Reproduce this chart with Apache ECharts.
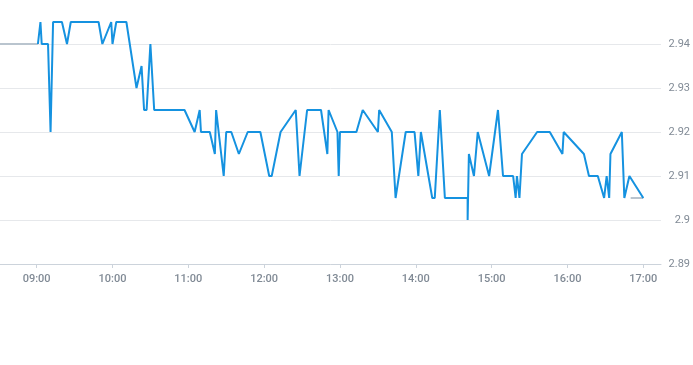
<!DOCTYPE html>
<html>
<head>
<meta charset="utf-8">
<script src="https://cdn.jsdelivr.net/npm/echarts@6/dist/echarts.min.js"></script>
<style>
html,body{margin:0;padding:0;background:#fff;}
#c{width:693px;height:365px;}
</style>
</head>
<body>
<div id="c"></div>
<script>
// axis range (minutes, category axis) and tick labels
var axisStart = '08:31';
var axisEnd = '17:14';
var tickLabels = ['09:00','10:00','11:00','12:00','13:00','14:00','15:00','16:00','17:00'];
var yTicks = [2.89, 2.9, 2.91, 2.92, 2.93, 2.94];

// price series (blue)
var priceTimes = ['09:01','09:03','09:04','09:09','09:11','09:13','09:20','09:24','09:27','09:49',
  '09:52','09:53','09:59','10:00','10:03','10:11','10:19','10:23','10:25','10:27',
  '10:30','10:33','10:57','11:05','11:09','11:10','11:17','11:21','11:22','11:28',
  '11:30','11:34','11:40','11:47','11:57','12:04','12:06','12:13','12:25','12:28',
  '12:34','12:45','12:50','12:51','12:58','12:59','13:00','13:13','13:18','13:30',
  '13:31','13:41','13:44','13:52','13:59','14:02','14:04','14:13','14:15','14:19',
  '14:23','14:41','14:41','14:42','14:46','14:49','14:58','15:05','15:09','15:17',
  '15:19','15:20','15:22','15:24','15:36','15:46','15:56','15:57','16:13','16:17',
  '16:24','16:29','16:31','16:33','16:34','16:43','16:45','16:49','17:00'];
var priceValues = [2.94,2.945,2.94,2.94,2.92,2.945,2.945,2.94,2.945,2.945,
  2.94,2.94,2.945,2.94,2.945,2.945,2.93,2.935,2.925,2.925,
  2.94,2.925,2.925,2.92,2.925,2.92,2.92,2.915,2.925,2.91,
  2.92,2.92,2.915,2.92,2.92,2.91,2.91,2.92,2.925,2.91,
  2.925,2.925,2.915,2.925,2.92,2.91,2.92,2.92,2.925,2.92,
  2.925,2.92,2.905,2.92,2.92,2.91,2.92,2.905,2.905,2.925,
  2.905,2.905,2.90,2.915,2.91,2.92,2.91,2.925,2.91,2.91,
  2.905,2.91,2.905,2.915,2.92,2.92,2.915,2.92,2.915,2.91,
  2.91,2.905,2.91,2.905,2.915,2.92,2.905,2.91,2.905];

// reference (grey) segments
var refTimes = ['08:31','09:01', null, '16:50','17:00'];
var refValues = [2.94, 2.94, null, 2.905, 2.905];

function toMin(s){var p=s.split(':');return (+p[0])*60+(+p[1]);}
function toStr(m){var h=Math.floor(m/60),mm=m%60;return (h<10?'0':'')+h+':'+(mm<10?'0':'')+mm;}
var categories = [];
for (var m = toMin(axisStart); m <= toMin(axisEnd); m++) categories.push(toStr(m));

var priceData = priceTimes.map(function(t,i){return [t, priceValues[i]];});
var refData = refTimes.map(function(t,i){return t===null ? ['-', null] : [t, refValues[i]];});

var showTick = function(idx, val){ return tickLabels.indexOf(val) >= 0; };

var chart = echarts.init(document.getElementById('c'), null, {renderer:'canvas'});
chart.setOption({
  animation:false,
  grid:{left:0, right:30, top:0, bottom:101, containLabel:false},
  xAxis:{
    type:'category', data:categories, boundaryGap:false,
    axisLine:{show:true, lineStyle:{color:'#ccd3db', width:1}},
    axisTick:{show:true, interval:showTick, length:4, lineStyle:{color:'#ccd3db'}},
    axisLabel:{interval:showTick, color:'#808a95', fontSize:11, fontWeight:500, margin:10, fontFamily:'Roboto, sans-serif'},
    splitLine:{show:false}
  },
  yAxis:{
    type:'value', position:'right', min:yTicks[0], max:2.95, interval:0.01,
    axisLine:{show:false}, axisTick:{show:false},
    axisLabel:{color:'#808a95', fontSize:11, align:'right', margin:29, showMaxLabel:false, fontFamily:'Roboto, sans-serif'},
    splitLine:{show:true, showMaxLine:false, lineStyle:{color:'#e6e8eb', width:1}}
  },
  series:[
    {type:'line', data:refData, showSymbol:false, connectNulls:false,
     lineStyle:{color:'#b9c4ce', width:2}, z:1},
    {type:'line', data:priceData, showSymbol:false,
     lineStyle:{color:'#1592e0', width:2}, z:2}
  ]
});
</script>
</body>
</html>
